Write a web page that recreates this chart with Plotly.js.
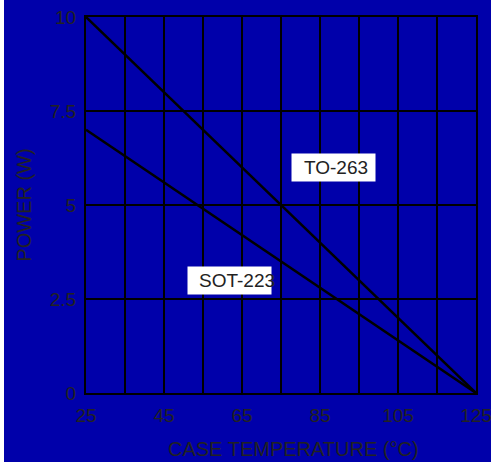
<!DOCTYPE html>
<html>
<head>
<meta charset="utf-8">
<script src="https://cdn.plot.ly/plotly-3.0.1.min.js"></script>
<style>
html,body{margin:0;padding:0;background:#ffffff;}
#chart{position:absolute;left:4px;top:0;width:487px;height:462px;}
</style>
</head>
<body>
<div id="chart"></div>
<script>
// Data
const caseTemp = [25, 125];
const powerTO263 = [10, 0];
const powerSOT223 = [7, 0];
const labelTO263 = "TO-263";
const labelSOT223 = "SOT-223";
const xTickVals = [25, 45, 65, 85, 105, 125];
const yTickVals = [0, 2.5, 5, 7.5, 10];

const blue = "#0000aa";
const txt = "#222222";
const fnt = {family: "Liberation Sans, Arial, sans-serif", size: 19, color: txt};
const titleFnt = {family: "Liberation Sans, Arial, sans-serif", size: 20, color: txt};

const traces = [
  {x: caseTemp, y: powerTO263, mode: "lines", line: {color: "#000000", width: 2.5}, hoverinfo: "skip"},
  {x: caseTemp, y: powerSOT223, mode: "lines", line: {color: "#000000", width: 2.5}, hoverinfo: "skip"}
];

const layout = {
  width: 487, height: 462,
  margin: {l: 82, r: 15, t: 17, b: 69},
  paper_bgcolor: blue,
  plot_bgcolor: blue,
  showlegend: false,
  font: fnt,
  xaxis: {
    range: [25, 125], tickvals: xTickVals, ticktext: xTickVals.map(String),
    showgrid: true, gridcolor: "#000000", gridwidth: 1.3,
    minor: {dtick: 10, tick0: 25, showgrid: true, gridcolor: "#000000", gridwidth: 1.3, ticklen: 0},
    showline: true, linecolor: "#000000", linewidth: 2, mirror: true,
    zeroline: false, ticks: "", tickfont: fnt, ticklabelstandoff: 4,
    ticklabeloverflow: "allow",
    title: {text: ""}
  },
  yaxis: {
    range: [0, 10], tickvals: yTickVals, ticktext: yTickVals.map(String),
    showgrid: true, gridcolor: "#000000", gridwidth: 1.3,
    showline: true, linecolor: "#000000", linewidth: 2, mirror: true,
    zeroline: false, ticks: "", tickfont: fnt, ticklabelstandoff: 4,
    title: {text: "POWER (W)", font: titleFnt, standoff: 13}
  },
  annotations: [
    {xref: "x", yref: "y", x: 88.5, y: 6.0, text: " ", showarrow: false, bgcolor: "#ffffff", width: 83, height: 27, borderpad: 0},
    {xref: "x", yref: "y", x: 89.2, y: 6.0, text: labelTO263, showarrow: false, font: fnt},
    {xref: "x", yref: "y", x: 61.9, y: 3.0, text: " ", showarrow: false, bgcolor: "#ffffff", width: 83, height: 27, borderpad: 0},
    {xref: "x", yref: "y", x: 63.6, y: 3.0, text: labelSOT223, showarrow: false, font: fnt},
    {xref: "paper", yref: "paper", x: 0.531, y: -0.15, yanchor: "middle", text: "CASE TEMPERATURE (°C)", showarrow: false, font: titleFnt}
  ]
};

Plotly.newPlot("chart", traces, layout, {displayModeBar: false, staticPlot: true});
</script>
</body>
</html>
